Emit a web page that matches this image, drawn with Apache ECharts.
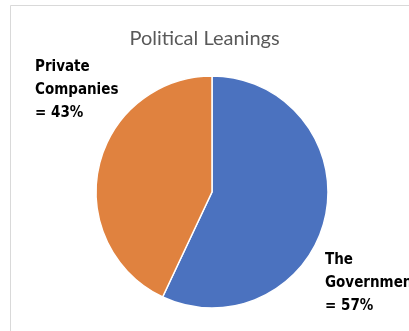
<!DOCTYPE html>
<html>
<head>
<meta charset="utf-8">
<script src="https://cdn.jsdelivr.net/npm/echarts@6/dist/echarts.min.js"></script>
<style>
  html, body { margin: 0; padding: 0; background: #fff; }
  #chart-container { width: 409px; height: 331px; }
</style>
</head>
<body>
<div id="chart-container"></div>
<script>
const categories = ["The\nGovernment", "Private\nCompanies"];
const values = [57, 43];
const colors = ["#4b72bf", "#e0823f"];

(() => {
  var dom = document.getElementById("chart-container");
  var chart = echarts.init(dom, null, { renderer: "canvas" });

  // where the two labels sit (top-left of the text block)
  const labelPos = [
    { x: 325, y: 249 },
    { x: 35, y: 56 },
  ];

  const option = {
    animation: false,
    title: {
      text: "Political Leanings",
      left: "center",
      top: 24,
      textStyle: {
        fontFamily: "Lato",
        fontWeight: "normal",
        fontSize: 20,
        color: "#595959",
      },
    },
    graphic: [
      {
        type: "rect",
        shape: { x: 10.5, y: 5.5, width: 600, height: 600 },
        style: { fill: "none", stroke: "#d9d9d9", lineWidth: 1 },
        silent: true,
      },
    ],
    series: [
      {
        type: "pie",
        center: [212, 192],
        radius: 116,
        startAngle: 90,
        clockwise: true,
        color: colors,
        itemStyle: { borderColor: "#fff", borderWidth: 1.5 },
        label: {
          show: true,
          formatter: (p) => `${p.name}\n= ${p.value}%`,
          fontFamily: "DejaVu Sans Condensed",
          fontWeight: "bold",
          fontSize: 15,
          lineHeight: 23,
          color: "#000",
          overflow: "none",
          width: 200,
        },
        labelLine: { show: false },
        labelLayout: (params) => ({
          x: labelPos[params.dataIndex].x,
          y: labelPos[params.dataIndex].y,
          align: "left",
          verticalAlign: "top",
        }),
        emphasis: { disabled: true },
        data: categories.map((name, i) => ({ name: name, value: values[i] })),
      },
    ],
  };

  chart.setOption(option);
  window.addEventListener("resize", chart.resize);
})();
</script>
</body>
</html>
